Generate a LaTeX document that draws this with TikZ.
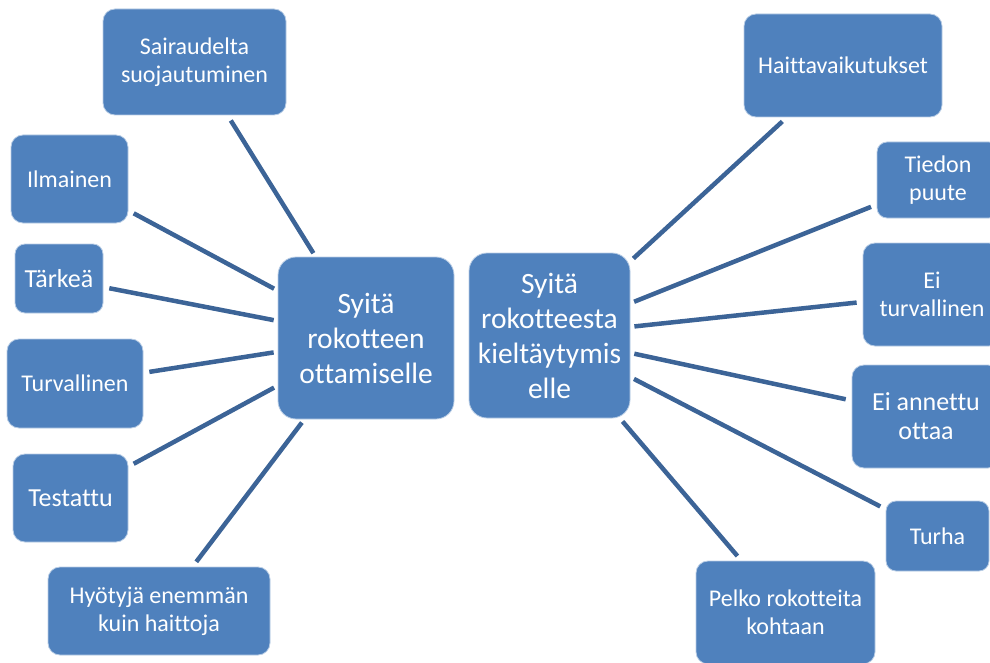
\documentclass[tikz,border=0pt]{standalone}
\usepackage{fontspec}
\setmainfont{Carlito}[Ligatures=NoCommon]
\definecolor{boxblue}{HTML}{4F81BD}
\definecolor{linecol}{HTML}{3C6497}
\tikzset{
  box/.style={rectangle, rounded corners=12pt, fill=boxblue, draw=white!60!boxblue, line width=0.8pt,
    text=white, align=center, inner sep=0pt, font=\fontsize{24}{28}\selectfont},
  hub/.style={box, rounded corners=18pt, font=\fontsize{29.5}{35}\selectfont},
  conn/.style={draw=linecol, line width=4.5pt, shorten <=6pt, shorten >=4pt},
}
\begin{document}
\begin{tikzpicture}[x=1pt,y=-1pt]
\useasboundingbox (0,0) rectangle (990,663);
\clip (0,0) rectangle (990,663);
% hubs
\node[hub, minimum width=176pt, minimum height=162pt] (hubL) at (366,338) {Syitä\\rokotteen\\ottamiselle};
\node[hub, minimum width=161pt, minimum height=165pt] (hubR) at (549.5,335.5) {Syitä\\rokotteesta\\kieltäytymis\\elle};
% left
\node[box, minimum width=183pt, minimum height=106pt] (sair) at (194.5,62) {Sairaudelta\\suojautuminen};
\node[box, minimum width=117pt, minimum height=88pt] (ilm) at (69.5,179) {Ilmainen};
\node[box, minimum width=88pt, minimum height=69pt, rounded corners=10pt, font=\fontsize{26}{30}\selectfont] (tark) at (59,278.5) {Tärkeä};
\node[box, minimum width=136pt, minimum height=89pt] (turv) at (75,383.5) {Turvallinen};
\node[box, minimum width=115pt, minimum height=88pt, font=\fontsize{26}{30}\selectfont] (test) at (70.5,498) {Testattu};
\node[box, minimum width=222pt, minimum height=88pt] (hyot) at (159,611) {Hyötyjä enemmän\\kuin haittoja};
% right
\node[box, minimum width=198pt, minimum height=103pt] (hait) at (843,65.5) {Haittavaikutukset};
\node[box, minimum width=122pt, minimum height=76pt, rounded corners=10pt] (tied) at (938,180) {Tiedon\\puute};
\node[box, minimum width=138pt, minimum height=103pt] (eitu) at (932,294.5) {Ei\\turvallinen};
\node[box, minimum width=148pt, minimum height=103pt, font=\fontsize{26}{29}\selectfont] (eian) at (926,416.5) {Ei annettu\\ottaa};
\node[box, minimum width=103pt, minimum height=70pt, rounded corners=10pt] (turha) at (937.5,536) {Turha};
\node[box, minimum width=179pt, minimum height=103pt] (pelko) at (785.5,612.5) {Pelko rokotteita\\kohtaan};
% connectors
\foreach \n in {sair,ilm,tark,turv,test,hyot} \draw[conn] (\n) -- (hubL);
\foreach \n in {hait,tied,eitu,eian,turha,pelko} \draw[conn] (\n) -- (hubR);
\end{tikzpicture}
\end{document}
